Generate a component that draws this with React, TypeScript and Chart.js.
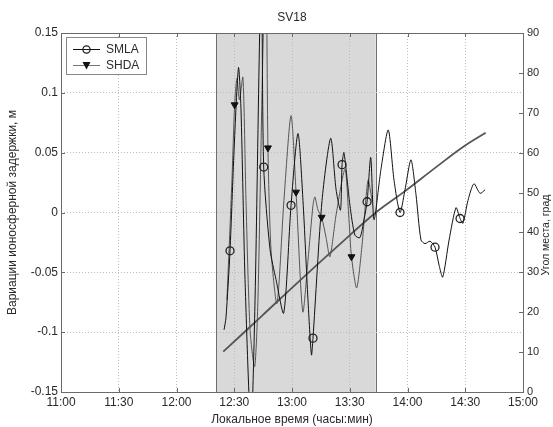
import React, { useEffect, useRef } from 'react';
import { Chart, registerables } from 'chart.js';

Chart.register(...registerables);

const TITLE = 'SV18';
const X_TITLE = 'Локальное время (часы:мин)';
const Y_TITLE = 'Вариации ионосферной задержки, м';
const Y1_TITLE = 'Угол места, град';
const SMLA_LABEL = 'SMLA';
const SHDA_LABEL = 'SHDA';

// time axis: minutes after 11:00
const xMin = 0;
const xMax = 240;
const xStep = 30;
const yMin = -0.15;
const yMax = 0.15;
const yStep = 0.05;
const y1Min = 0;
const y1Max = 90;
const y1Step = 10;

// shaded interval (minutes after 11:00)
const shadeStart = 80.5;
const shadeEnd = 163.5;

const smlaTime = [84.7, 85.7, 87.8, 89.9, 92.2, 93.5, 95.6, 98.7, 100.8, 103.2, 104.2, 105.3, 108.6, 111.7, 115.7, 119.5, 123.1, 125.7, 128.3, 130.1, 130.9, 135.6, 140.1, 142.9, 145.2, 146.0, 147.0, 150.1, 152.7, 155.3, 157.4, 159.0, 160.9, 162.6, 166.2, 170.0, 173.0, 176.1, 178.7, 181.8, 184.4, 187.0, 189.1, 191.7, 194.3, 196.4, 198.3, 201.6, 205.2, 207.3, 208.8, 211.4, 214.5, 217.7, 220.3];
const smlaValue = [-0.098, -0.088, -0.032, 0.052, 0.121, 0.086, -0.056, -0.182, -0.073, 0.15, 0.203, 0.038, -0.031, -0.056, -0.084, 0.006, 0.066, 0.010, -0.073, -0.119, -0.105, 0.010, 0.062, 0.019, 0.002, 0.040, 0.050, 0.006, -0.019, -0.021, -0.006, 0.009, 0.046, -0.006, 0.036, 0.069, 0.027, 0.000, 0.019, 0.044, 0.015, -0.023, -0.026, -0.024, -0.029, -0.044, -0.054, -0.023, 0.004, -0.005, -0.009, 0.010, 0.024, 0.016, 0.019];
const smlaMarkerIdx = [2, 11, 15, 20, 25, 31, 37, 44, 49];

const shdaTime = [86.2, 88.8, 90.2, 91.4, 92.7, 94.5, 96.1, 98.2, 100.6, 102.3, 104.9, 106.5, 107.5, 109.1, 112.2, 115.8, 119.5, 122.1, 125.6, 128.3, 130.9, 131.9, 133.5, 135.4, 137.7, 139.7, 142.9, 147.5, 149.6, 150.9, 153.6, 156.4, 159.5, 161.6];
const shdaValue = [-0.073, 0.027, 0.090, 0.112, 0.094, 0.113, 0.010, -0.098, -0.129, -0.073, 0.136, 0.211, 0.054, -0.031, -0.076, 0.010, 0.081, 0.017, -0.083, -0.040, 0.006, 0.013, 0.002, -0.004, -0.021, -0.037, -0.002, 0.036, -0.006, -0.037, -0.063, -0.027, 0.027, 0.010];
const shdaMarkerIdx = [2, 12, 17, 23, 29];

const elevTime = [84.3, 104.4, 124.2, 143.6, 163.1, 178.0, 195.2, 209.0, 220.6];
const elevDeg = [10.1, 19.1, 28.0, 36.5, 44.8, 50.1, 56.5, 61.5, 65.0];

const FONT = "'Liberation Sans', Arial, sans-serif";
const TEXT = '#2a2a2a';

const fmtTime = (m: number) => {
  const h = 11 + Math.floor(m / 60);
  const mm = Math.round(m % 60);
  return `${h}:${String(mm).padStart(2, '0')}`;
};
const fmtNum = (v: number) => {
  const r = +Number(v).toFixed(2);
  return r === 0 ? '0' : String(r);
};

const decorPlugin = {
  id: 'decor',
  beforeDraw(chart: any) {
    const { ctx, chartArea: a, scales } = chart;
    const x0 = scales.x.getPixelForValue(shadeStart);
    const x1 = scales.x.getPixelForValue(shadeEnd);
    ctx.save();
    ctx.fillStyle = '#d9d9d9';
    ctx.fillRect(x0, a.top, x1 - x0, a.bottom - a.top);
    ctx.strokeStyle = '#6f6f6f';
    ctx.lineWidth = 1;
    ctx.beginPath();
    ctx.moveTo(Math.round(x0) + 0.5, a.top);
    ctx.lineTo(Math.round(x0) + 0.5, a.bottom);
    ctx.moveTo(Math.round(x1) + 0.5, a.top);
    ctx.lineTo(Math.round(x1) + 0.5, a.bottom);
    ctx.stroke();
    ctx.restore();
  },
  afterDraw(chart: any) {
    const { ctx, chartArea: a, scales } = chart;
    ctx.save();
    // frame
    ctx.strokeStyle = '#6a6a6a';
    ctx.lineWidth = 1;
    ctx.strokeRect(Math.round(a.left) + 0.5, Math.round(a.top) + 0.5, Math.round(a.right - a.left), Math.round(a.bottom - a.top));
    // inside tick marks
    ctx.beginPath();
    const tl = 4;
    scales.x.ticks.forEach((t: any) => {
      const px = Math.round(scales.x.getPixelForValue(t.value)) + 0.5;
      ctx.moveTo(px, a.bottom);
      ctx.lineTo(px, a.bottom - tl);
      ctx.moveTo(px, a.top);
      ctx.lineTo(px, a.top + tl);
    });
    scales.y.ticks.forEach((t: any) => {
      const py = Math.round(scales.y.getPixelForValue(t.value)) + 0.5;
      ctx.moveTo(a.left, py);
      ctx.lineTo(a.left + tl, py);
    });
    scales.y1.ticks.forEach((t: any) => {
      const py = Math.round(scales.y1.getPixelForValue(t.value)) + 0.5;
      ctx.moveTo(a.right, py);
      ctx.lineTo(a.right - tl, py);
    });
    ctx.stroke();

    // title
    ctx.fillStyle = TEXT;
    ctx.font = `12px ${FONT}`;
    ctx.textAlign = 'center';
    ctx.textBaseline = 'middle';
    ctx.fillText(TITLE, (a.left + a.right) / 2, 18);

    // right axis title
    ctx.save();
    ctx.translate(546.5, 235);
    ctx.rotate(-Math.PI / 2);
    ctx.font = `10.5px ${FONT}`;
    ctx.fillText(Y1_TITLE, 0, 0);
    ctx.restore();

    // legend
    const lx = 66.5, ly = 37.5, lw = 80, lh = 37;
    ctx.fillStyle = '#ffffff';
    ctx.fillRect(lx, ly, lw, lh);
    ctx.strokeStyle = '#888';
    ctx.strokeRect(lx, ly, lw, lh);
    const rows = [
      { label: SMLA_LABEL, y: 49.5, color: '#111', marker: 'circle' },
      { label: SHDA_LABEL, y: 65.5, color: '#777', marker: 'tri' },
    ];
    rows.forEach((r) => {
      ctx.strokeStyle = r.color;
      ctx.lineWidth = 1;
      ctx.beginPath();
      ctx.moveTo(73, r.y);
      ctx.lineTo(100, r.y);
      ctx.stroke();
      if (r.marker === 'circle') {
        ctx.strokeStyle = '#222';
        ctx.lineWidth = 1.3;
        ctx.beginPath();
        ctx.arc(86.5, r.y, 3.6, 0, Math.PI * 2);
        ctx.stroke();
      } else {
        ctx.fillStyle = '#111';
        ctx.beginPath();
        ctx.moveTo(82.5, r.y - 3.5);
        ctx.lineTo(90.5, r.y - 3.5);
        ctx.lineTo(86.5, r.y + 4);
        ctx.closePath();
        ctx.fill();
      }
      ctx.fillStyle = TEXT;
      ctx.font = `12px ${FONT}`;
      ctx.textAlign = 'left';
      ctx.textBaseline = 'middle';
      ctx.fillText(r.label, 106, r.y + 0.5);
    });
    ctx.restore();
  },
};

export default function App() {
  const ref = useRef<HTMLCanvasElement | null>(null);
  useEffect(() => {
    if (!ref.current) return;
    const radii = (n: number, idx: number[]) => Array.from({ length: n }, (_, i) => (idx.includes(i) ? 4 : 0));
    const chart = new Chart(ref.current, {
      type: 'line',
      data: {
        datasets: [
          {
            label: SMLA_LABEL,
            data: smlaTime.map((t, i) => ({ x: t, y: smlaValue[i] })),
            borderColor: '#111',
            borderWidth: 1,
            tension: 0.25,
            pointRadius: radii(smlaTime.length, smlaMarkerIdx),
            pointStyle: 'circle',
            pointBackgroundColor: 'rgba(0,0,0,0)',
            pointBorderColor: '#222',
            pointBorderWidth: 1.3,
            yAxisID: 'y',
          },
          {
            label: SHDA_LABEL,
            data: shdaTime.map((t, i) => ({ x: t, y: shdaValue[i] })),
            borderColor: '#555',
            borderWidth: 1,
            tension: 0.25,
            pointRadius: radii(shdaTime.length, shdaMarkerIdx),
            pointStyle: 'triangle',
            pointRotation: 180,
            pointBackgroundColor: '#111',
            pointBorderColor: '#111',
            pointBorderWidth: 1,
            yAxisID: 'y',
          },
          {
            label: Y1_TITLE,
            data: elevTime.map((t, i) => ({ x: t, y: elevDeg[i] })),
            borderColor: '#555',
            borderWidth: 1.8,
            tension: 0.4,
            pointRadius: 0,
            yAxisID: 'y1',
          },
        ],
      },
      options: {
        responsive: false,
        animation: false,
        devicePixelRatio: 1,
        events: [],
        layout: { padding: { top: 33, left: 0, right: 0, bottom: 0 } },
        plugins: { legend: { display: false }, title: { display: false }, tooltip: { enabled: false } },
        scales: {
          x: {
            type: 'linear',
            min: xMin,
            max: xMax,
            afterFit: (s: any) => { s.height = 35; },
            ticks: { stepSize: xStep, callback: (v: any) => fmtTime(Number(v)), color: TEXT, font: { family: FONT, size: 12 }, padding: 3, maxRotation: 0, autoSkip: false },
            grid: { color: '#bdbdbd', drawTicks: false, lineWidth: 1 },
            border: { display: false, dash: [1, 2] },
            title: { display: true, text: X_TITLE, color: TEXT, font: { family: FONT, size: 12 }, padding: { top: 0, bottom: 0 } },
          },
          y: {
            type: 'linear',
            position: 'left',
            min: yMin,
            max: yMax,
            afterFit: (s: any) => { s.width = 61; },
            ticks: { stepSize: yStep, callback: (v: any) => fmtNum(Number(v)), color: TEXT, font: { family: FONT, size: 12 }, padding: 3 },
            grid: { color: '#bdbdbd', drawTicks: false, lineWidth: 1 },
            border: { display: false, dash: [1, 2] },
            title: { display: true, text: Y_TITLE, color: TEXT, font: { family: FONT, size: 12 }, padding: { top: 5, bottom: 0 } },
          },
          y1: {
            type: 'linear',
            position: 'right',
            min: y1Min,
            max: y1Max,
            afterFit: (s: any) => { s.width = 30; },
            ticks: { stepSize: y1Step, color: TEXT, font: { family: FONT, size: 11 }, padding: 4 },
            grid: { drawOnChartArea: false, drawTicks: false },
            border: { display: false },
          },
        },
      } as any,
      plugins: [decorPlugin],
    });
    return () => chart.destroy();
  }, []);
  return (
    <div style={{ position: 'absolute', left: 0, top: 0, width: 553, height: 427, background: '#fff' }}>
      <canvas ref={ref} width={553} height={427} style={{ display: 'block' }} />
    </div>
  );
}
